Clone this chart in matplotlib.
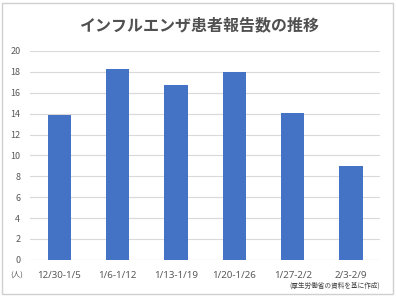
"""Influenza reported cases per sentinel: weekly bar chart."""
import matplotlib
matplotlib.use("Agg")
import matplotlib.pyplot as plt
from matplotlib.patches import Rectangle
import numpy as np

plt.rcParams["font.family"] = ["Noto Sans CJK JP", "DejaVu Sans"]

weeks = ["12/30-1/5", "1/6-1/12", "1/13-1/19", "1/20-1/26", "1/27-2/2", "2/3-2/9"]
patients = [13.9, 18.3, 16.7, 18.0, 14.1, 9.0]
yticks = [0, 2, 4, 6, 8, 10, 12, 14, 16, 18, 20]

title = "インフルエンザ患者報告数の推移"
unit = "(人)"
source = "(厚生労働省の資料を基に作成)"

text_gray = "#595959"


def main():
    fig = plt.figure(figsize=(3.96, 2.98), dpi=100)
    fig.patches.append(Rectangle((0.006, 0.014), 0.986, 0.976, transform=fig.transFigure,
                                 fill=False, edgecolor="#D0D0D0", linewidth=1.0))
    ax = fig.add_axes([0.076, 0.128, 0.884, 0.701])

    x = np.arange(len(weeks))
    ax.bar(x, patients, width=0.4, color="#4472C4", zorder=3)

    ax.set_xlim(-0.5, len(weeks) - 0.5)
    ax.set_ylim(0, 20)
    ax.set_yticks(yticks)
    ax.set_yticklabels([str(t) for t in yticks], fontsize=6.5, color=text_gray)
    ax.set_xticks(x)
    ax.set_xticklabels(weeks, fontsize=7, color=text_gray, family="Noto Sans")
    ax.tick_params(axis="both", length=0)
    ax.tick_params(axis="y", pad=7)
    ax.tick_params(axis="x", pad=8)
    ax.grid(axis="y", color="#D9D9D9", linewidth=0.8, zorder=0)
    for side in ["top", "right", "left", "bottom"]:
        ax.spines[side].set_visible(False)
    ax.axhline(0, color="#D9D9D9", linewidth=0.8, zorder=2)

    fig.text(0.505, 0.916, title, ha="center", va="center", fontsize=11.5,
             fontweight="bold", color="#505050")
    fig.text(0.042, 0.08, unit, ha="center", va="center", fontsize=5.5, color=text_gray)
    fig.text(0.96, 0.043, source, ha="right", va="center", fontsize=4.8, color="#404040")

    fig.savefig("out.png", dpi=100)


if __name__ == "__main__":
    main()
